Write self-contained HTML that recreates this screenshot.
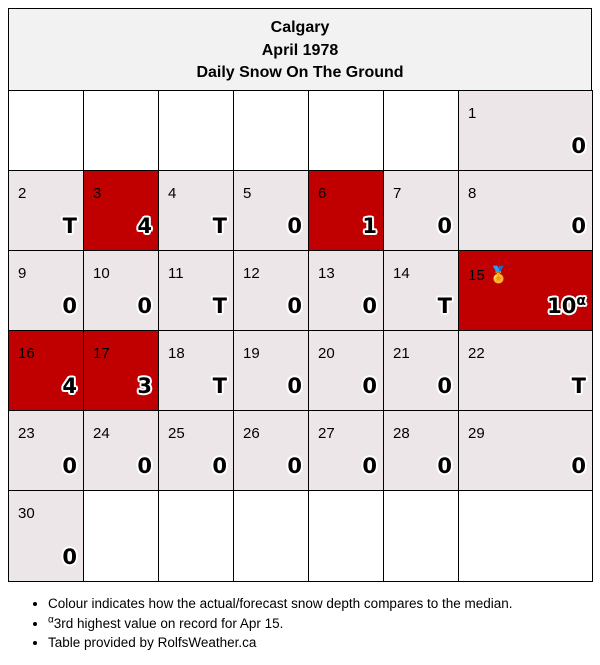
<!DOCTYPE html>
<html><head><meta charset="utf-8"><style>
body{margin:0;width:600px;height:665px;background:#fff;font-family:"Liberation Sans","DejaVu Sans",sans-serif;position:relative}
#hdr{position:absolute;left:8px;top:8px;width:584px;height:83px;border:1px solid #000;background:#f2f2f2;text-align:center;font-weight:bold;font-size:16px;line-height:22.5px;padding-top:8px;box-sizing:border-box}
.cell{position:absolute;border:1px solid #000;box-sizing:border-box;}
.day{position:absolute;left:9px;top:14px;font-size:15px}
.val{position:absolute;right:6px;bottom:12px;font-family:"DejaVu Sans",sans-serif;font-size:21px;font-weight:bold;color:#000;text-shadow:-1.5px -1.5px 0 #fff,1.5px -1.5px 0 #fff,-1.5px 1.5px 0 #fff,1.5px 1.5px 0 #fff,0 2px 0 #fff,2px 0 0 #fff,-2px 0 0 #fff,0 -2px 0 #fff}
.val sup{font-size:14px;vertical-align:8px;line-height:0}
ul{position:absolute;left:10px;top:594px;margin:0;padding-left:38px;font-size:13.5px;line-height:19.5px}
ul sup{font-size:10px;line-height:0}
</style></head><body>
<div id="hdr">Calgary<br>April 1978<br>Daily Snow On The Ground</div>
<div id="grid"></div>
<ul>
<li>Colour indicates how the actual/forecast snow depth compares to the median.</li>
<li><sup>α</sup>3rd highest value on record for Apr 15.</li>
<li>Table provided by RolfsWeather.ca</li>
</ul>
<script>
const days=[1,2,3,4,5,6,7,8,9,10,11,12,13,14,15,16,17,18,19,20,21,22,23,24,25,26,27,28,29,30];
const values=["0","T","4","T","0","1","0","0","0","0","T","0","0","T","10","4","3","T","0","0","0","T","0","0","0","0","0","0","0","0"];
const above=[3,6,15,16,17];
const startCol=6;
const colX=[8,83,158,233,308,383,458,592];
const rowY=[90,170,250,330,410,490,581];
const g=document.getElementById('grid');
for(let r=0;r<6;r++)for(let c=0;c<7;c++){
  const idx=r*7+c-startCol;
  const d=document.createElement('div');
  d.className='cell';
  
  
  d.style.left=colX[c]+'px';d.style.top=rowY[r]+'px';
  d.style.width=(colX[c+1]-colX[c]+1)+'px';d.style.height=(rowY[r+1]-rowY[r]+1)+'px';
  if(idx>=0&&idx<days.length){
    const day=days[idx];
    d.style.background=above.includes(day)?'#c00000':'#ede6e8';
    const n=document.createElement('div');n.className='day';
    
    
    n.textContent=day;
    if(day===15){n.innerHTML='15 <span style="font-size:16px">🏅</span>';}
    d.appendChild(n);
    const v=document.createElement('div');v.className='val';
    
    
    v.innerHTML=values[idx]+(day===15?'<sup>α</sup>':'');
    d.appendChild(v);
  } else d.style.background='#fff';
  g.appendChild(d);
}
</script>
</body></html>
